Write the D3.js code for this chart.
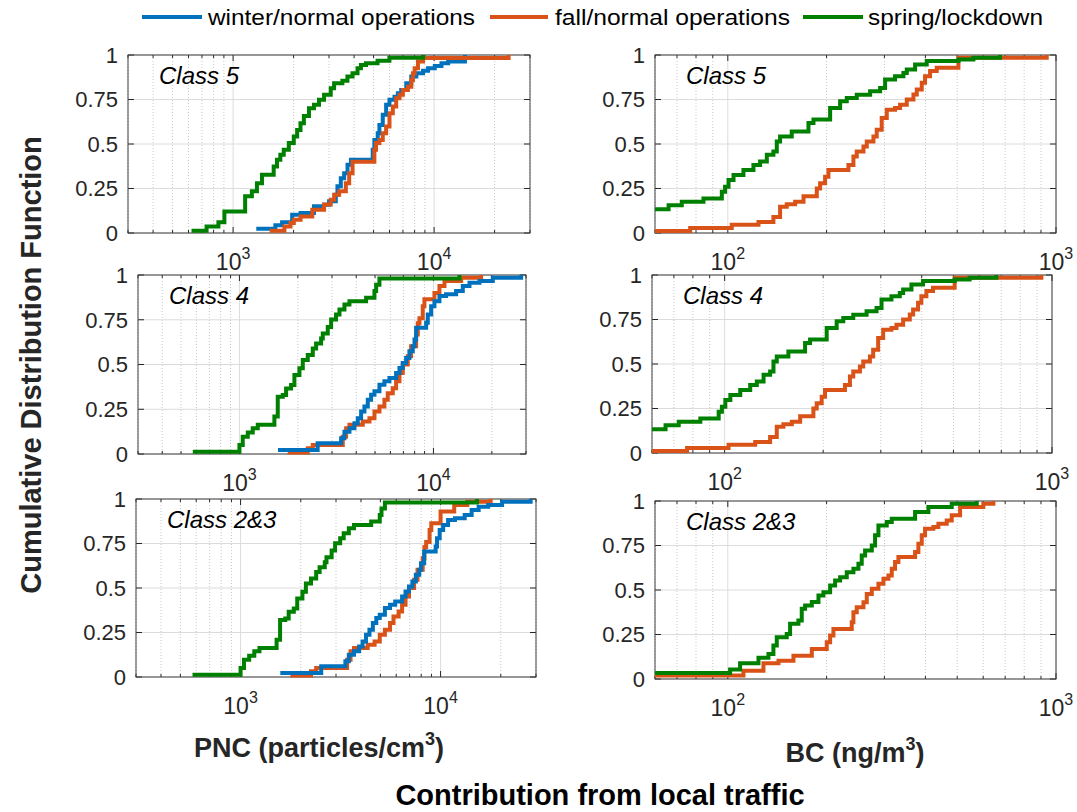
<!DOCTYPE html>
<html lang="en">
<head>
<meta charset="utf-8">
<script src="https://d3js.org/d3.v7.min.js"></script>
<style>
  body { margin: 0; background: #ffffff; }
  text { font-family: "Liberation Sans", Arial, Helvetica, sans-serif; fill: #262626; }
</style>
</head>
<body>
<script>
// ---- chart values ----
var seriesNames = ["winter/normal operations", "fall/normal operations", "spring/lockdown"];
var seriesColors = ["#0072BD", "#D95319", "#008000"];
var classNames = ["Class 5", "Class 4", "Class 2&3"];
var yTicks = [0, 0.25, 0.5, 0.75, 1];
var yTickLabels = ["0", "0.25", "0.5", "0.75", "1"];
var pncDomain = [300, 30000];
var bcDomain = [60, 1000];

// each point: [value, cumulative fraction]  (stairs)
var pnc5Winter = [[1304,0.024],[1623,0.043],[1753,0.06],[1967,0.103],[2166,0.112],[2525,0.15],[2835,0.159],[3002,0.178],[3243,0.215],[3305,0.262],[3435,0.308],[3569,0.336],[3709,0.383],[3855,0.411],[4950,0.467],[5045,0.523],[5243,0.561],[5345,0.607],[5554,0.664],[5772,0.72],[5998,0.748],[6353,0.766],[6603,0.785],[6861,0.804],[7270,0.841],[7701,0.879],[8156,0.897],[8810,0.912],[9333,0.925],[10080,0.938],[10880,0.953],[11750,0.964],[14240,1]];
var pnc5Fall = [[1520,0.013],[1800,0.037],[1930,0.056],[2005,0.075],[2166,0.093],[2477,0.13],[2835,0.16],[3061,0.187],[3181,0.215],[3370,0.234],[3638,0.28],[3780,0.336],[3929,0.4],[5045,0.467],[5142,0.505],[5345,0.523],[5554,0.561],[5772,0.598],[5998,0.673],[6233,0.71],[6477,0.757],[6730,0.776],[6994,0.804],[7409,0.822],[7701,0.86],[7850,0.897],[8003,0.925],[8315,0.963],[8810,0.983],[23480,1]];
var pnc5Spring = [[621,0.013],[738,0.037],[845,0.06],[905,0.121],[1148,0.206],[1240,0.234],[1314,0.28],[1392,0.327],[1592,0.374],[1654,0.411],[1718,0.439],[1786,0.467],[1893,0.505],[2004,0.542],[2083,0.579],[2164,0.617],[2250,0.658],[2385,0.701],[2525,0.72],[2676,0.748],[2835,0.776],[3060,0.813],[3180,0.841],[3497,0.856],[3705,0.879],[3927,0.897],[4160,0.925],[4325,0.944],[4583,0.953],[5233,0.968],[5993,0.985],[8810,1]];

var pnc4Winter = [[1580,0.022],[2530,0.06],[3342,0.088],[3477,0.125],[3690,0.144],[3915,0.172],[4074,0.2],[4238,0.237],[4409,0.265],[4587,0.303],[4771,0.331],[4965,0.35],[5268,0.387],[5589,0.406],[5932,0.424],[6421,0.452],[6680,0.48],[6950,0.508],[7230,0.536],[7520,0.574],[7825,0.602],[7985,0.639],[8140,0.705],[9170,0.733],[9350,0.78],[9730,0.826],[10120,0.854],[10740,0.882],[11620,0.892],[13090,0.91],[14170,0.938],[15340,0.957],[17270,0.966],[20230,0.985],[28310,1]];
var pnc4Fall = [[1774,0.009],[2250,0.032],[2388,0.05],[3409,0.097],[3547,0.144],[3690,0.163],[4322,0.181],[4679,0.2],[4965,0.237],[5268,0.265],[5589,0.303],[5815,0.34],[6171,0.368],[6421,0.406],[6680,0.452],[6950,0.5],[7372,0.546],[7670,0.602],[8140,0.667],[8305,0.731],[8470,0.759],[8810,0.826],[8985,0.864],[10120,0.9],[10740,0.938],[11400,0.966],[13890,0.985],[17610,1]];
var pnc4Spring = [[575,0.013],[1000,0.05],[1040,0.097],[1104,0.12],[1171,0.144],[1243,0.163],[1514,0.209],[1576,0.32],[1673,0.329],[1740,0.366],[1846,0.385],[1920,0.441],[2038,0.479],[2121,0.525],[2250,0.553],[2388,0.59],[2484,0.617],[2636,0.645],[2689,0.673],[2853,0.71],[2969,0.751],[3148,0.779],[3278,0.807],[3478,0.835],[3690,0.854],[4497,0.873],[4965,0.91],[5065,0.946],[5268,0.981],[13620,1]];

var pnc23Winter = [[1580,0.022],[2530,0.06],[3342,0.088],[3477,0.125],[3690,0.144],[3915,0.172],[4074,0.2],[4238,0.237],[4409,0.265],[4587,0.303],[4771,0.331],[4965,0.35],[5268,0.387],[5589,0.406],[5932,0.424],[6421,0.452],[6680,0.48],[6950,0.508],[7230,0.536],[7520,0.574],[7825,0.602],[7985,0.639],[8280,0.705],[9450,0.733],[9600,0.78],[9900,0.826],[10300,0.854],[10900,0.882],[11800,0.892],[13200,0.91],[14300,0.938],[15500,0.957],[17300,0.966],[20300,0.985],[28200,1]];
var pnc23Fall = [[1774,0.009],[2250,0.032],[2388,0.05],[3409,0.097],[3547,0.144],[3690,0.163],[4322,0.181],[4679,0.2],[4965,0.237],[5268,0.265],[5589,0.303],[5815,0.34],[6171,0.368],[6421,0.406],[6680,0.452],[6950,0.5],[7372,0.546],[7670,0.602],[8140,0.667],[8305,0.731],[8470,0.759],[8810,0.826],[8985,0.864],[10000,0.93],[11700,0.966],[13600,0.985],[17800,1]];
var pnc23Spring = [[575,0.013],[1000,0.05],[1040,0.097],[1104,0.12],[1171,0.144],[1243,0.163],[1514,0.209],[1576,0.32],[1673,0.329],[1740,0.366],[1846,0.385],[1920,0.441],[2038,0.479],[2121,0.525],[2250,0.553],[2388,0.59],[2484,0.617],[2636,0.645],[2689,0.673],[2853,0.71],[2969,0.751],[3148,0.779],[3278,0.807],[3478,0.835],[3690,0.854],[4497,0.873],[4965,0.91],[5065,0.946],[5268,0.981],[15200,1]];

var bc5Fall = [[50,0.011],[76.8,0.028],[102.8,0.047],[124,0.062],[137.7,0.09],[144.3,0.147],[151.2,0.162],[160.4,0.175],[170.1,0.207],[186.7,0.25],[191.1,0.28],[197.9,0.316],[202.6,0.354],[233.1,0.382],[241.4,0.43],[247.1,0.458],[259,0.486],[265.1,0.514],[277.8,0.542],[284.3,0.58],[294.4,0.646],[305,0.693],[323.3,0.702],[334.9,0.72],[351,0.75],[367.8,0.778],[376.5,0.806],[389.9,0.844],[399,0.88],[413.3,0.91],[433.1,0.928],[504.3,0.985],[937,1]];
var bc5Spring = [[50,0.134],[66,0.156],[72.4,0.175],[84.3,0.194],[95.9,0.232],[98.1,0.26],[100.5,0.298],[104.1,0.326],[111.6,0.354],[119.7,0.382],[125.4,0.401],[131.5,0.439],[137.7,0.458],[141,0.514],[144.3,0.542],[156.6,0.57],[176.1,0.618],[182.4,0.637],[205,0.702],[219.9,0.74],[230.4,0.758],[247.1,0.777],[271.4,0.796],[291.1,0.815],[301.5,0.862],[323.3,0.88],[342.8,0.899],[351,0.918],[372.1,0.947],[403.7,0.966],[504.3,0.975],[560.2,0.985],[675,1]];

var bc4Fall = [[50,0.011],[76.8,0.028],[102.8,0.047],[124,0.062],[137.7,0.09],[144.3,0.147],[151.2,0.162],[160.4,0.175],[170.1,0.207],[186.7,0.25],[191.1,0.28],[197.9,0.316],[202.6,0.354],[233.1,0.382],[241.4,0.43],[247.1,0.458],[259,0.486],[265.1,0.514],[277.8,0.542],[284.3,0.58],[294.4,0.646],[305,0.693],[323.3,0.702],[334.9,0.72],[351,0.75],[367.8,0.778],[376.5,0.806],[389.9,0.844],[399,0.88],[413.3,0.91],[433.1,0.928],[504.3,0.985],[928,1]];
var bc4Spring = [[50,0.134],[66,0.156],[72.4,0.175],[84.3,0.194],[95.9,0.232],[98.1,0.26],[100.5,0.298],[104.1,0.326],[111.6,0.354],[119.7,0.382],[125.4,0.401],[131.5,0.439],[137.7,0.458],[141,0.514],[144.3,0.542],[156.6,0.57],[176.1,0.618],[182.4,0.637],[205,0.702],[219.9,0.74],[230.4,0.758],[247.1,0.777],[271.4,0.796],[291.1,0.815],[301.5,0.862],[323.3,0.88],[342.8,0.899],[351,0.918],[372.1,0.947],[403.7,0.966],[504.3,0.975],[560.2,0.985],[676,1]];

var bc23Fall = [[50,0.019],[111.6,0.047],[128.4,0.088],[142.7,0.103],[158.5,0.131],[180.3,0.169],[200.2,0.206],[205,0.244],[209.8,0.281],[238.6,0.319],[241.4,0.375],[247.1,0.403],[259,0.431],[265.1,0.478],[274.6,0.507],[287.7,0.535],[298,0.563],[308.6,0.582],[315.9,0.619],[323.3,0.657],[331,0.685],[372.1,0.713],[380.8,0.76],[389.9,0.807],[399,0.844],[423.1,0.854],[438.1,0.872],[464.5,0.89],[481.2,0.92],[510.2,0.966],[600.6,0.985],[644.5,1]];
var bc23Spring = [[50,0.034],[101.6,0.053],[109,0.088],[124,0.12],[133,0.141],[137.7,0.188],[141,0.235],[151.2,0.253],[154.8,0.31],[164.1,0.328],[168,0.394],[172,0.413],[180.3,0.432],[188.9,0.469],[195.6,0.488],[205,0.525],[212.3,0.553],[219.9,0.572],[230.4,0.6],[241.4,0.619],[250,0.647],[255.9,0.694],[262,0.722],[274.6,0.75],[281,0.807],[287.7,0.863],[305,0.882],[315.9,0.9],[372.1,0.938],[408.5,0.966],[481.2,0.985],[573.5,1]];

// ---- layout ----
var svg = d3.select("body").append("svg")
    .attr("width", 1077)
    .attr("height", 812);

var panels = [
  {box: {left: 128, right: 530, top: 55, bottom: 233}, domain: pncDomain, label: classNames[0], lines: [[pnc5Winter, 0], [pnc5Fall, 1], [pnc5Spring, 2]]},
  {box: {left: 138, right: 526, top: 275, bottom: 454}, domain: pncDomain, label: classNames[1], lines: [[pnc4Fall, 1], [pnc4Winter, 0], [pnc4Spring, 2]]},
  {box: {left: 136, right: 536, top: 499, bottom: 677}, domain: pncDomain, label: classNames[2], lines: [[pnc23Fall, 1], [pnc23Winter, 0], [pnc23Spring, 2]]},
  {box: {left: 655, right: 1056, top: 55, bottom: 233}, domain: bcDomain, label: classNames[0], lines: [[bc5Fall, 1], [bc5Spring, 2]]},
  {box: {left: 652, right: 1052, top: 275, bottom: 453}, domain: bcDomain, label: classNames[1], lines: [[bc4Fall, 1], [bc4Spring, 2]]},
  {box: {left: 655, right: 1056, top: 501, bottom: 679}, domain: bcDomain, label: classNames[2], lines: [[bc23Fall, 1], [bc23Spring, 2]]}
];

panels.forEach(function (p, i) {
  var b = p.box;
  var x = d3.scaleLog().domain(p.domain).range([b.left, b.right]);
  var y = d3.scaleLinear().domain([0, 1]).range([b.bottom, b.top]);
  var g = svg.append("g");

  var xt = x.ticks();
  var isMajor = function (v) { return Math.abs(Math.log10(v) - Math.round(Math.log10(v))) < 1e-9; };
  var minorT = xt.filter(function (v) { return !isMajor(v); });
  var majorT = xt.filter(isMajor);

  // grid
  g.selectAll(".mg").data(minorT).enter().append("line")
      .attr("x1", function (d) { return x(d); }).attr("x2", function (d) { return x(d); })
      .attr("y1", b.top).attr("y2", b.bottom)
      .attr("stroke", "#c8c8c8").attr("stroke-width", 1).attr("stroke-dasharray", "1,2");
  g.selectAll(".Mg").data(majorT).enter().append("line")
      .attr("x1", function (d) { return x(d); }).attr("x2", function (d) { return x(d); })
      .attr("y1", b.top).attr("y2", b.bottom)
      .attr("stroke", "#dcdcdc").attr("stroke-width", 1);
  g.selectAll(".yg").data(yTicks).enter().append("line")
      .attr("x1", b.left).attr("x2", b.right)
      .attr("y1", function (d) { return y(d); }).attr("y2", function (d) { return y(d); })
      .attr("stroke", "#dcdcdc").attr("stroke-width", 1);

  // ticks (inside, all four sides)
  xt.forEach(function (v) {
    var len = isMajor(v) ? 6 : 3;
    g.append("line").attr("x1", x(v)).attr("x2", x(v)).attr("y1", b.bottom).attr("y2", b.bottom - len).attr("stroke", "#262626");
    g.append("line").attr("x1", x(v)).attr("x2", x(v)).attr("y1", b.top).attr("y2", b.top + len).attr("stroke", "#262626");
  });
  yTicks.forEach(function (v) {
    g.append("line").attr("x1", b.left).attr("x2", b.left + 6).attr("y1", y(v)).attr("y2", y(v)).attr("stroke", "#262626");
    g.append("line").attr("x1", b.right).attr("x2", b.right - 6).attr("y1", y(v)).attr("y2", y(v)).attr("stroke", "#262626");
  });

  // box
  g.append("rect")
      .attr("x", b.left).attr("y", b.top)
      .attr("width", b.right - b.left).attr("height", b.bottom - b.top)
      .attr("fill", "none").attr("stroke", "#404040").attr("stroke-width", 1);

  // y tick labels
  g.selectAll(".yl").data(yTicks).enter().append("text")
      .attr("x", b.left - 10).attr("y", function (d) { return y(d); })
      .attr("dy", "0.36em")
      .attr("text-anchor", "end")
      .style("font-size", "22px")
      .text(function (d, k) { return yTickLabels[k]; });

  // x tick labels 10^n
  majorT.forEach(function (v) {
    var t = g.append("text")
        .attr("x", x(v)).attr("y", b.bottom + 37)
        .attr("text-anchor", "middle")
        .style("font-size", "23px");
    t.append("tspan").text("10");
    t.append("tspan").attr("dy", -11).style("font-size", "16px").text(Math.round(Math.log10(v)));
  });

  // clip + stairs
  svg.append("clipPath").attr("id", "clip" + i).append("rect")
      .attr("x", b.left).attr("y", b.top - 4)
      .attr("width", b.right - b.left).attr("height", b.bottom - b.top + 8);

  var line = d3.line()
      .x(function (d) { return x(d[0]); })
      .y(function (d) { return y(d[1]); })
      .curve(d3.curveStepAfter);

  var lg = svg.append("g").attr("clip-path", "url(#clip" + i + ")");
  p.lines.forEach(function (s) {
    lg.append("path")
        .datum(s[0])
        .attr("d", line)
        .attr("fill", "none")
        .attr("stroke", seriesColors[s[1]])
        .attr("stroke-width", 4)
        .attr("stroke-linejoin", "miter");
  });

  // class label
  svg.append("text")
      .attr("x", b.left + 31).attr("y", b.top + 29)
      .style("font-size", "24px").style("font-style", "italic")
      .style("fill", "#000")
      .text(p.label);
});

// ---- legend ----
var legendX = [[142, 202, 208, 267], [490, 548, 555, 235], [803, 863, 868, 175]];
seriesNames.forEach(function (name, k) {
  var L = legendX[k];
  svg.append("line")
      .attr("x1", L[0]).attr("x2", L[1]).attr("y1", 17).attr("y2", 17)
      .attr("stroke", seriesColors[k]).attr("stroke-width", 4);
  svg.append("text")
      .attr("x", L[2]).attr("y", 25)
      .attr("textLength", L[3]).attr("lengthAdjust", "spacingAndGlyphs")
      .style("font-size", "22px").style("fill", "#000")
      .text(name);
});

// ---- axis titles ----
svg.append("text")
    .attr("transform", "translate(41,365) rotate(-90)")
    .attr("text-anchor", "middle")
    .style("font-size", "29px").style("font-weight", "bold").style("fill", "#262626")
    .text("Cumulative Distribution Function");

var pncT = svg.append("text")
    .attr("x", 319).attr("y", 757)
    .attr("text-anchor", "middle")
    .style("font-size", "27px").style("font-weight", "bold");
pncT.append("tspan").text("PNC (particles/cm");
pncT.append("tspan").attr("dy", -12).style("font-size", "18px").text("3");
pncT.append("tspan").attr("dy", 12).text(")");

var bcT = svg.append("text")
    .attr("x", 855).attr("y", 762)
    .attr("text-anchor", "middle")
    .style("font-size", "27px").style("font-weight", "bold");
bcT.append("tspan").text("BC (ng/m");
bcT.append("tspan").attr("dy", -12).style("font-size", "18px").text("3");
bcT.append("tspan").attr("dy", 12).text(")");

svg.append("text")
    .attr("x", 600).attr("y", 805)
    .attr("text-anchor", "middle")
    .style("font-size", "29px").style("font-weight", "bold").style("fill", "#000")
    .text("Contribution from local traffic");
</script>
</body>
</html>
